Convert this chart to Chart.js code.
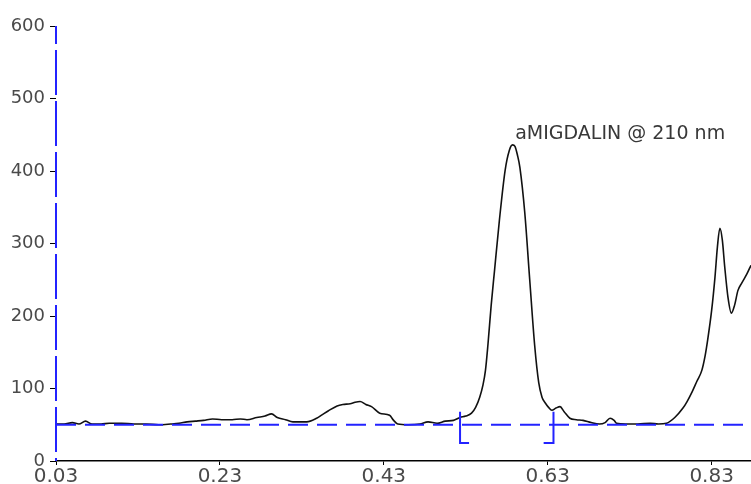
<!DOCTYPE html>
<html>
<head>
<meta charset="utf-8">
<script src="https://cdn.jsdelivr.net/npm/chart.js@4/dist/chart.umd.min.js"></script>
<style>
  html, body { margin: 0; padding: 0; background: #ffffff; }
  canvas { display: block; }
</style>
</head>
<body>
<canvas id="chart" width="751" height="484"></canvas>
<script>
// retention time (min) and detector response
const timeValues = [
    0.030, 0.040, 0.050, 0.058, 0.066, 0.074, 0.085, 0.095, 0.110, 0.125,
    0.140, 0.155, 0.170, 0.180, 0.190, 0.200, 0.210, 0.221, 0.232, 0.245,
    0.255, 0.263, 0.275, 0.285, 0.293, 0.300, 0.310, 0.319, 0.336, 0.348,
    0.355, 0.362, 0.373, 0.380, 0.389, 0.395, 0.401, 0.408, 0.415, 0.425,
    0.437, 0.442, 0.447, 0.460, 0.474, 0.484, 0.495, 0.505, 0.515, 0.523,
    0.530, 0.537, 0.542, 0.547, 0.551, 0.554, 0.557, 0.561, 0.565, 0.571,
    0.578, 0.583, 0.587, 0.590, 0.593, 0.596, 0.602, 0.608, 0.614, 0.619,
    0.623, 0.627, 0.631, 0.635, 0.640, 0.645, 0.650, 0.657, 0.665, 0.673,
    0.683, 0.693, 0.700, 0.706, 0.711, 0.714, 0.725, 0.740, 0.755, 0.765,
    0.775, 0.785, 0.795, 0.800, 0.806, 0.812, 0.818, 0.822, 0.825, 0.830,
    0.834, 0.837, 0.840, 0.843, 0.846, 0.850, 0.854, 0.858, 0.862, 0.867,
    0.873, 0.878
];
const signalValues = [
    51, 51, 53, 51, 55, 51, 51, 52, 52, 51,
    51, 50, 51, 52, 54, 55, 56, 58, 57, 57,
    58, 57, 60, 62, 65, 60, 57, 54, 54, 59,
    64, 69, 76, 78, 79, 81, 82, 78, 75, 66,
    63, 56, 51, 50, 51, 54, 52, 55, 56, 60,
    62, 66, 74, 88, 105, 125, 160, 215, 262, 332,
    401, 428, 436, 434, 422, 405, 342, 250, 160, 108,
    88, 80, 74, 70, 73, 75, 68, 59, 57, 56,
    53, 51, 53, 59, 56, 52, 51, 51, 52, 51,
    52, 60, 73, 82, 95, 110, 125, 145, 166, 208,
    253, 295, 321, 305, 267, 225, 204, 215, 235, 246,
    258, 270
];

const baselineX = [0.03, 0.878];
const baselineY = [50, 50];

const leftBracketX = [0.534, 0.523, 0.523];
const leftBracketY = [25, 25, 68];
const rightBracketX = [0.625, 0.637, 0.637];
const rightBracketY = [25, 25, 68];

const xTicks = [0.03, 0.23, 0.43, 0.63, 0.83];
const yTicks = [0, 100, 200, 300, 400, 500, 600];

const peakLabel = 'aMIGDALIN @ 210 nm';
const peakLabelX = 0.589;
const peakLabelY = 436;

const toPoints = (xs, ys) => xs.map((x, i) => ({ x: x, y: ys[i] }));

const BLUE = '#2323ff';
const TEXT = '#4a4a4a';
const FONT = '"DejaVu Sans", Verdana, sans-serif';

// dashed blue y axis line, drawn along the left edge of the plot
const dashedAxisPlugin = {
    id: 'dashedAxis',
    afterDatasetsDraw: (chart) => {
        const ctx = chart.ctx;
        const area = chart.chartArea;
        ctx.save();
        ctx.strokeStyle = BLUE;
        ctx.lineWidth = 2;
        ctx.setLineDash([45, 6]);
        ctx.lineDashOffset = 27;
        ctx.beginPath();
        ctx.moveTo(area.left, area.top);
        ctx.lineTo(area.left, area.bottom);
        ctx.stroke();
        ctx.restore();
    }
};

const peakLabelPlugin = {
    id: 'peakLabel',
    afterDatasetsDraw: (chart) => {
        const ctx = chart.ctx;
        const x = chart.scales.x.getPixelForValue(peakLabelX);
        const y = chart.scales.y.getPixelForValue(peakLabelY);
        ctx.save();
        ctx.font = '19px ' + FONT;
        ctx.fillStyle = '#383838';
        ctx.textAlign = 'left';
        ctx.textBaseline = 'alphabetic';
        ctx.fillText(peakLabel, x + 1, y - 6);
        ctx.restore();
    }
};

const configuration = {
    type: 'line',
    data: {
        datasets: [
            {
                data: toPoints(baselineX, baselineY),
                borderColor: BLUE,
                borderWidth: 2,
                borderDash: [20, 9],
                pointRadius: 0
            },
            {
                data: toPoints(leftBracketX, leftBracketY),
                borderColor: BLUE,
                borderWidth: 2,
                pointRadius: 0
            },
            {
                data: toPoints(rightBracketX, rightBracketY),
                borderColor: BLUE,
                borderWidth: 2,
                pointRadius: 0
            },
            {
                data: toPoints(timeValues, signalValues),
                borderColor: '#111111',
                borderWidth: 1.6,
                pointRadius: 0,
                cubicInterpolationMode: 'monotone'
            }
        ]
    },
    options: {
        responsive: false,
        animation: false,
        maintainAspectRatio: false,
        layout: {
            padding: { top: 26, right: 0, bottom: 0, left: 0 }
        },
        plugins: {
            legend: { display: false },
            tooltip: { enabled: false }
        },
        scales: {
            x: {
                type: 'linear',
                min: 0.03,
                max: 0.878,
                afterBuildTicks: (scale) => {
                    scale.ticks = xTicks.map(v => ({ value: v }));
                },
                afterFit: (scale) => {
                    scale.height = 23;
                },
                border: { display: true, color: '#000000', width: 1.5 },
                grid: {
                    drawOnChartArea: false,
                    drawTicks: true,
                    tickLength: 4,
                    color: '#000000'
                },
                ticks: {
                    autoSkip: false,
                    maxRotation: 0,
                    padding: 0,
                    color: TEXT,
                    font: { size: 20, family: FONT },
                    callback: (value) => Number(value).toFixed(2)
                }
            },
            y: {
                min: 0,
                max: 600,
                afterBuildTicks: (scale) => {
                    scale.ticks = yTicks.map(v => ({ value: v }));
                },
                afterFit: (scale) => {
                    scale.width = 56;
                },
                border: { display: false },
                grid: {
                    drawOnChartArea: false,
                    drawTicks: true,
                    tickLength: 6,
                    color: '#000000'
                },
                ticks: {
                    padding: 5,
                    color: TEXT,
                    font: { size: 18, family: FONT }
                }
            }
        }
    },
    plugins: [dashedAxisPlugin, peakLabelPlugin]
};

new Chart(document.getElementById('chart').getContext('2d'), configuration);
</script>
</body>
</html>
